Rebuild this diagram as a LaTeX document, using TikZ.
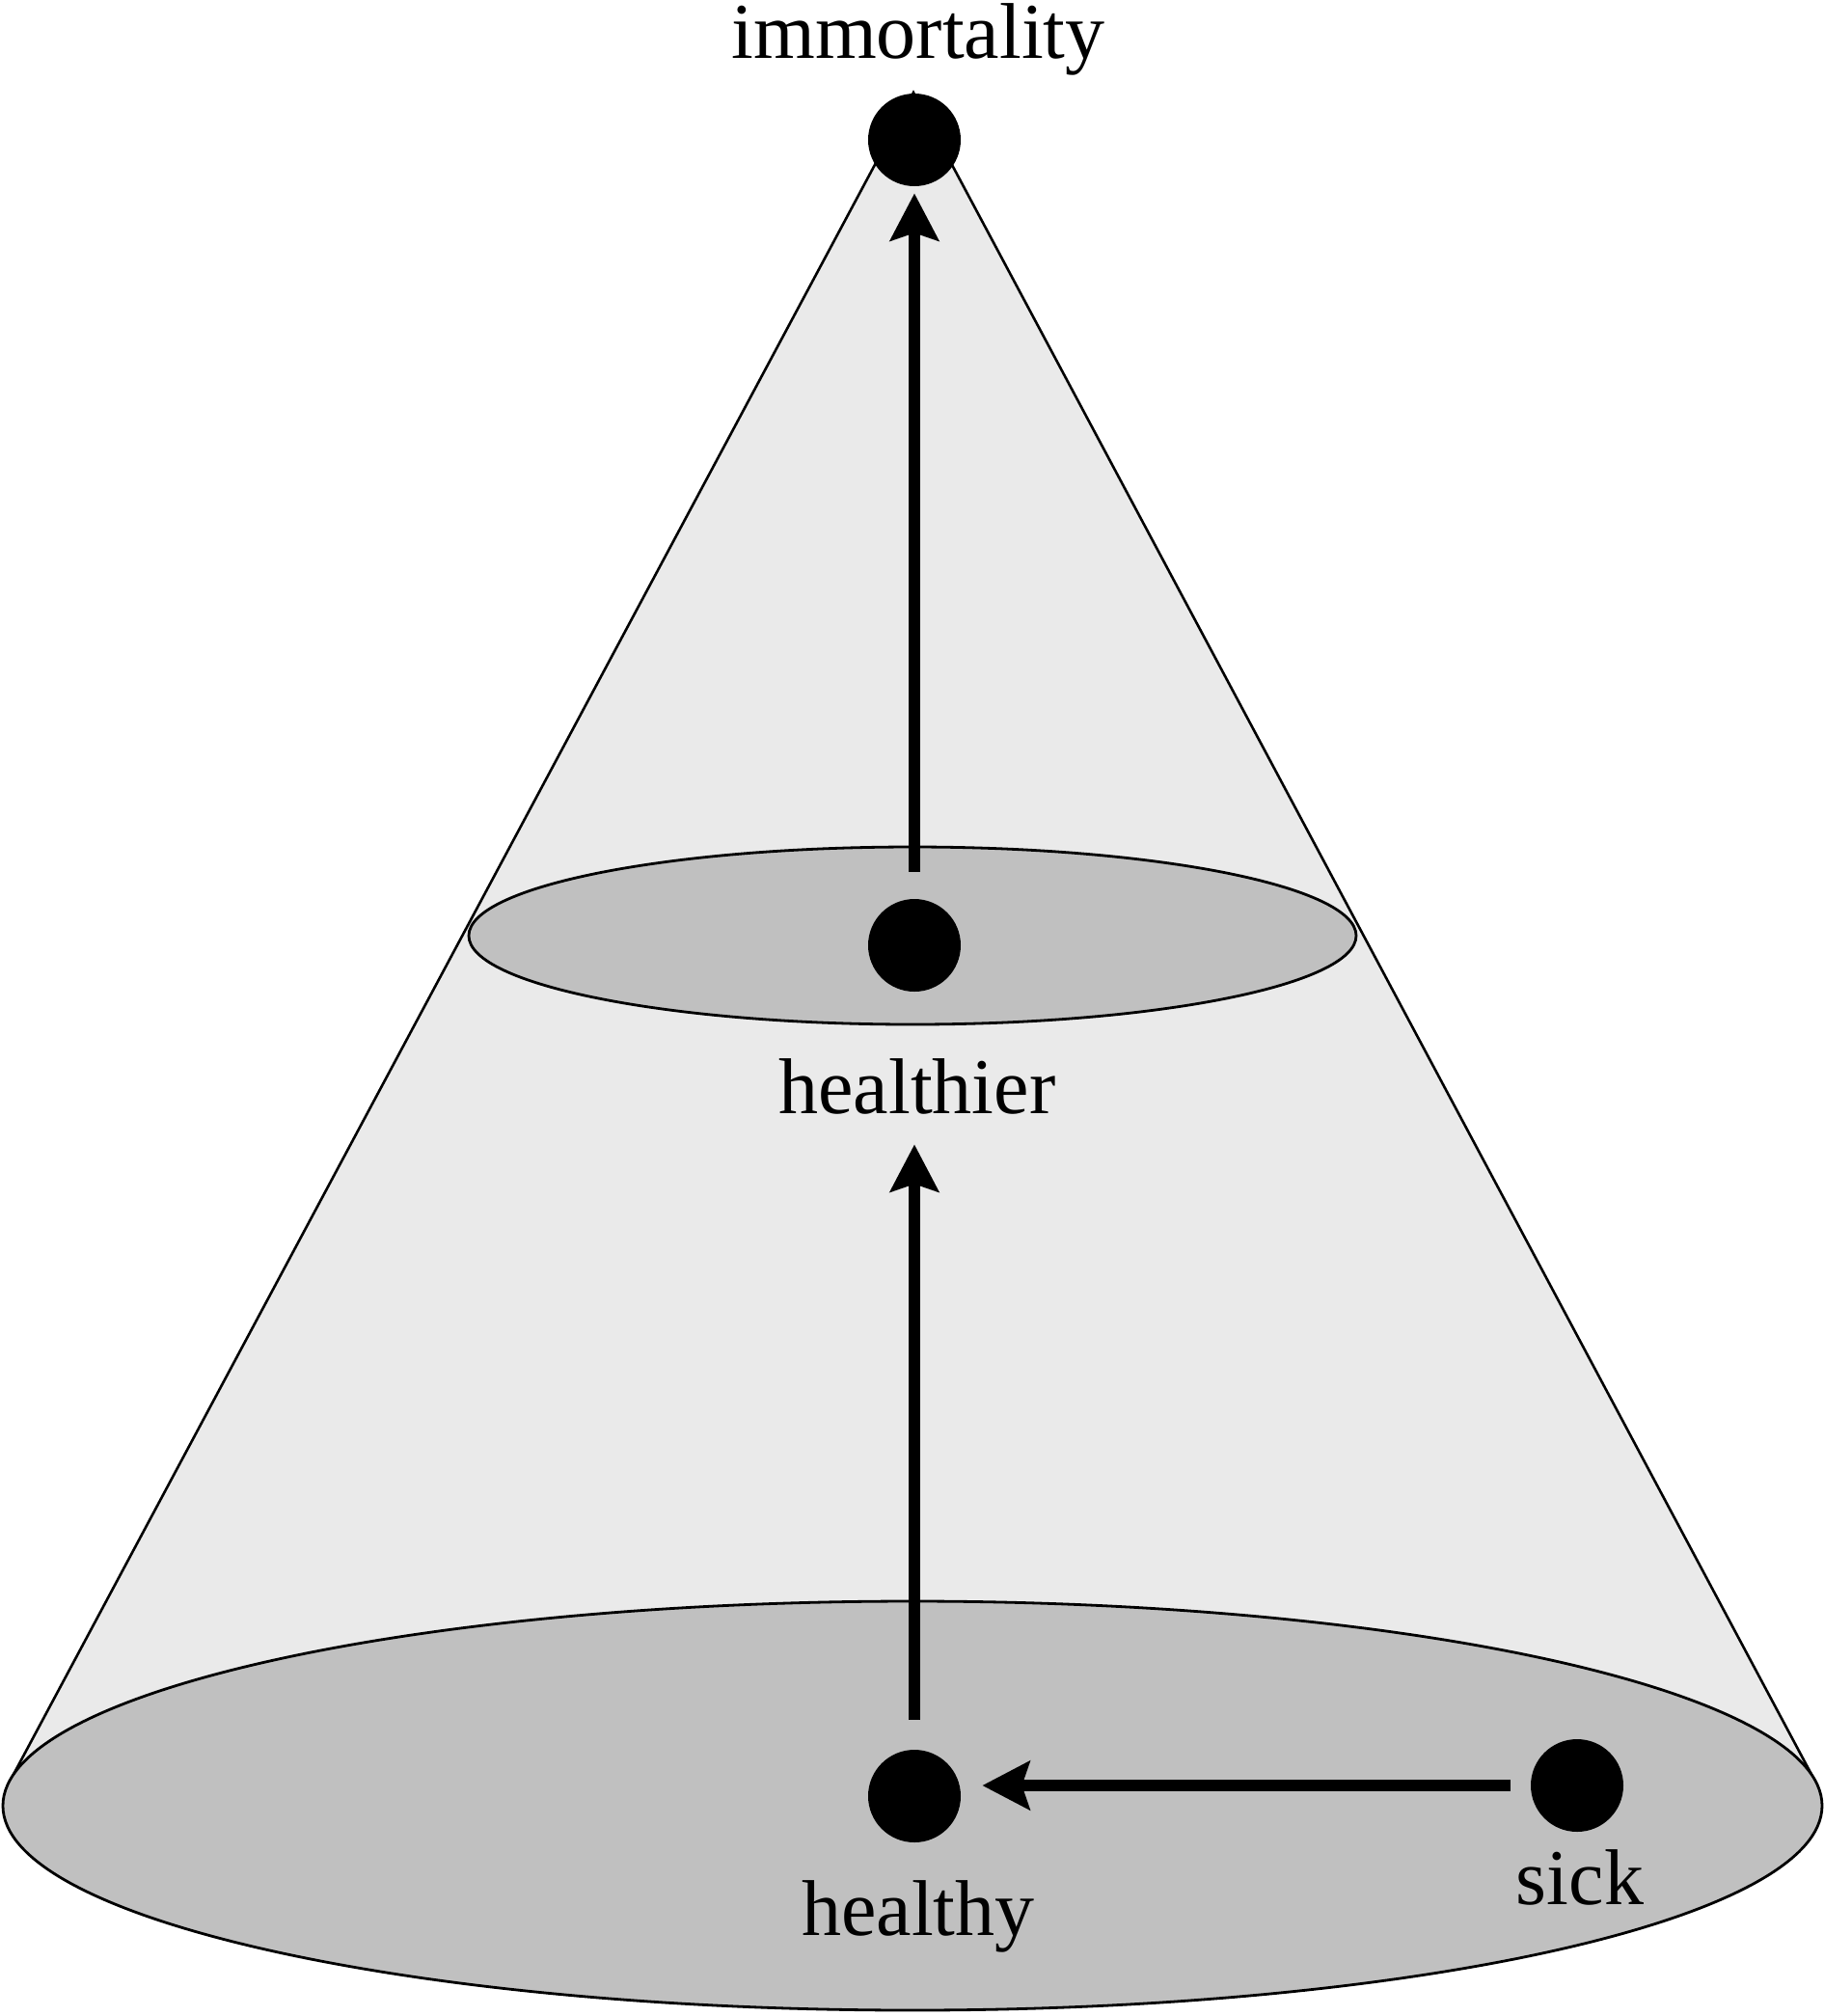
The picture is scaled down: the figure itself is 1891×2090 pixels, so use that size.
\documentclass[tikz,border=0pt]{standalone}
\usepackage{fontspec}
\setmainfont{Liberation Serif}
\usetikzlibrary{arrows.meta}
\definecolor{conegray}{HTML}{EAEAEA}
\definecolor{discgray}{HTML}{C0C0C0}
\begin{document}
\begin{tikzpicture}[x=0.5pt,y=-0.5pt,
  dot/.style={circle,fill=black,draw=none,minimum size=48pt,inner sep=0pt},
  lbl/.style={anchor=base,inner sep=0pt,font=\fontsize{41}{48}\selectfont},
  arr/.style={line width=6pt,-{Stealth[length=24.5pt,width=25pt,inset=4pt]}},
  rim/.style={line width=1.4pt,draw=black},
  side/.style={line width=1.3pt,draw=black}]
\useasboundingbox (0,0) rectangle (1891,2090);
% cone
\coordinate (apex) at (947,96);
\coordinate (tl) at (10,1847);
\coordinate (tr) at (1882,1847);
\fill[conegray] (apex) -- (tl) -- (tr) -- cycle;
\draw[side] (tl) -- (apex) -- (tr);
% discs
\filldraw[rim,fill=discgray] (946,1872) ellipse [x radius=943, y radius=212];
\filldraw[rim,fill=discgray] (946,970) ellipse [x radius=460, y radius=92];
% dots
\node[dot] (top) at (948,145) {};
\node[dot] (mid) at (948,980) {};
\node[dot] (healthy) at (948,1862) {};
\node[dot] (sick) at (1635,1851) {};
% labels
\node[lbl] (limm) at (952,60) {immortality};
\node[lbl] (lhealthier) at (951,1154) {healthier};
\node[lbl] (lhealthy) at (952,2006) {healthy};
\node[lbl] (lsick) at (1638,1974) {sick};
% arrows
\draw[arr,shorten <=14pt,shorten >=3.5pt] (mid) -- (top);
\draw[arr,shorten <=15.5pt,shorten >=79pt] (healthy) -- (mid);
\draw[arr,shorten <=10.5pt,shorten >=11pt] (sick.west) -- (healthy.east |- sick.west);
\end{tikzpicture}
\end{document}
